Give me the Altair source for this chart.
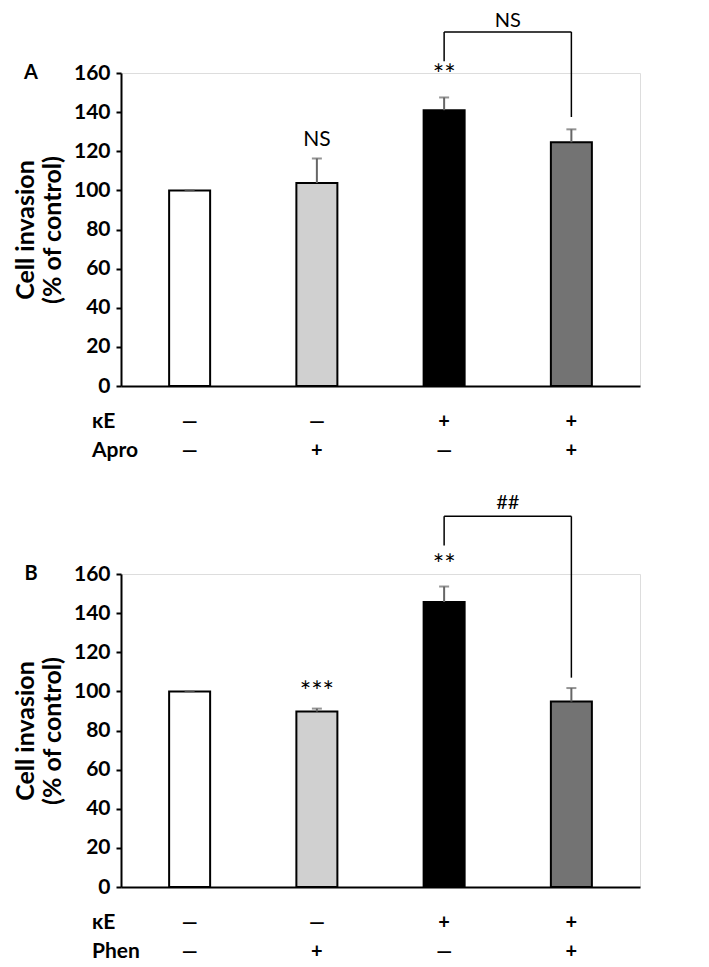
import altair as alt
import pandas as pd

# ---------------- data ----------------
positions = [0, 1, 2, 3]
fills = ["#ffffff", "#d0d0d0", "#000000", "#737373"]

a_means = [100, 103.8, 141.0, 124.6]
a_upper = [100, 116.3, 147.5, 131.2]
b_means = [100, 89.7, 145.7, 94.8]
b_upper = [100, 91.2, 153.6, 101.7]

ke_row = ["—", "—", "+", "+"]
apro_row = ["—", "+", "—", "+"]
phen_row = ["—", "+", "—", "+"]

a_sig_text = ["NS", "**"]
a_sig_pos = [1, 2]
a_sig_y = [125.8, 158.5]
b_sig_text = ["***", "**"]
b_sig_pos = [1, 2]
b_sig_y = [99.3, 164.1]

# bracket: [left end, top, right end], label, label height
a_bracket = [166.0, 181.0, 137.5]
a_bracket_label = "NS"
a_bracket_label_y = 186.5
b_bracket = [174.6, 189.5, 107.0]
b_bracket_label = "##"
b_bracket_label_y = 196.5

y_title = ["Cell invasion", "(% of control)"]

FONT = "Lato"
W, H = 519, 313


def panel(letter, means, upper, sig_text, sig_pos, sig_y, bracket, br_label, br_label_y,
          row2_name, row2):
    df = pd.DataFrame({"pos": positions, "mean": means, "upper": upper, "fill": fills})
    xs = alt.Scale(domain=[-0.5, 3.5], nice=False, zero=False)
    ys = alt.Scale(domain=[0, 160], nice=False)
    xaxis = alt.Axis(labels=False, ticks=False, title=None, grid=False,
                     domainColor="black", domainWidth=2)
    yaxis = alt.Axis(values=list(range(0, 161, 20)), grid=False,
                     labelFont=FONT, labelFontWeight="bold", labelFontSize=21,
                     labelColor="black", labelPadding=6,
                     tickColor="black", tickSize=5, tickWidth=2,
                     domainColor="black", domainWidth=2,
                     titleFont=FONT, titleFontSize=25, titleFontWeight="bold",
                     titleColor="black", titlePadding=8, titleLineHeight=27)

    def X(f):
        return alt.X(f, scale=xs, axis=xaxis, title=None)

    def Y(f):
        return alt.Y(f, scale=ys, axis=yaxis, title=y_title)

    bars = alt.Chart(df).mark_bar(size=41, stroke="black", strokeWidth=2).encode(
        x=X("pos:Q"), y=Y("mean:Q"),
        fill=alt.Fill("fill:N", scale=None),
    )
    err = alt.Chart(df).mark_rule(color="#666666", strokeWidth=2).encode(
        x=X("pos:Q"), y=Y("mean:Q"), y2="upper:Q",
    )
    cap = alt.Chart(df).mark_tick(color="#666666", thickness=2, size=10,
                                  orient="horizontal").encode(
        x=X("pos:Q"), y=Y("upper:Q"),
    )
    sig = alt.Chart(pd.DataFrame({"pos": sig_pos, "y": sig_y, "t": sig_text})).mark_text(
        font=FONT, fontSize=21, baseline="middle", color="black").encode(
        x=X("pos:Q"), y=Y("y:Q"), text="t:N",
        size=alt.condition("indexof(datum.t, '*') >= 0", alt.value(27), alt.value(21)),
    )
    seg = pd.DataFrame({
        "x1": [2, 2, 3], "x2": [3, 2, 3],
        "y1": [bracket[1], bracket[0], bracket[2]],
        "y2": [bracket[1], bracket[1], bracket[1]],
    })
    br = alt.Chart(seg).mark_rule(color="black", strokeWidth=1.5).encode(
        x=X("x1:Q"), x2="x2:Q", y=Y("y1:Q"), y2="y2:Q",
    )
    brl = alt.Chart(pd.DataFrame({"pos": [2.5], "y": [br_label_y], "t": [br_label]})).mark_text(
        font=FONT, fontSize=20, baseline="middle", color="black").encode(
        x=X("pos:Q"), y=Y("y:Q"), text="t:N",
    )
    rows = pd.DataFrame({"pos": positions, "ke": ke_row, "r2": row2})
    row_ke = alt.Chart(rows).mark_text(font=FONT, fontSize=20, fontWeight="bold",
                                       baseline="middle", color="black").encode(
        x=X("pos:Q"), y=alt.value(H + 36), text="ke:N")
    row_2 = alt.Chart(rows).mark_text(font=FONT, fontSize=20, fontWeight="bold",
                                      baseline="middle", color="black").encode(
        x=X("pos:Q"), y=alt.value(H + 65), text="r2:N")
    names = pd.DataFrame({"t": ["κE", row2_name], "r": [0, 1]})
    name1 = alt.Chart(names).transform_filter("datum.r == 0").mark_text(
        font=FONT, fontSize=21, fontWeight="bold", align="left", baseline="middle",
        color="black").encode(x=alt.value(-29), y=alt.value(H + 36), text="t:N")
    name2 = alt.Chart(names).transform_filter("datum.r == 1").mark_text(
        font=FONT, fontSize=21, fontWeight="bold", align="left", baseline="middle",
        color="black").encode(x=alt.value(-29), y=alt.value(H + 65), text="t:N")
    let = alt.Chart(pd.DataFrame({"t": [letter]})).mark_text(
        font=FONT, fontSize=20, fontWeight="bold", align="center", baseline="middle",
        color="black").encode(x=alt.value(-90), y=alt.value(0), text="t:N")

    return alt.layer(bars, err, cap, sig, br, brl, row_ke, row_2, name1, name2, let).properties(
        width=W, height=H)


pa = panel("A", a_means, a_upper, a_sig_text, a_sig_pos, a_sig_y, a_bracket,
           a_bracket_label, a_bracket_label_y, "Apro", apro_row)
pb = panel("B", b_means, b_upper, b_sig_text, b_sig_pos, b_sig_y, b_bracket,
           b_bracket_label, b_bracket_label_y, "Phen", phen_row)

chart = alt.vconcat(pa, pb, spacing=188, bounds="flush").properties(
    padding={"left": 4, "top": 2, "right": 5, "bottom": 0}
).configure_view(strokeWidth=0).configure(background="white")

chart.save("out.html", embed_options={"renderer": "svg", "actions": False})
